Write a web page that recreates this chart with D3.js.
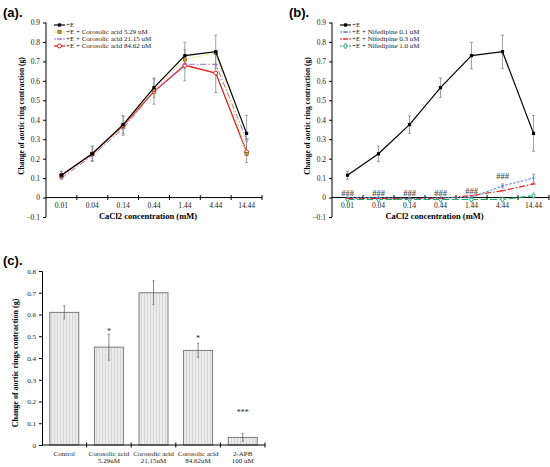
<!DOCTYPE html>
<html>
<head>
<meta charset="utf-8">
<script src="https://cdn.jsdelivr.net/npm/d3@7"></script>
<style>
  html, body { margin: 0; padding: 0; background: #fff; }
  svg { display: block; }
  text { font-family: "Liberation Serif", "Times New Roman", serif; }
</style>
</head>
<body>
<svg id="fig" width="550" height="467"></svg>
<script>
// ---- data ----
const concentrations = ["0.01", "0.04", "0.14", "0.44", "1.44", "4.44", "14.44"];

const valE = [0.115, 0.225, 0.375, 0.565, 0.73, 0.75, 0.33];
const errE = [0.02, 0.04, 0.045, 0.05, 0.068, 0.085, 0.092];

const valCA529 = [0.11, 0.225, 0.37, 0.555, 0.71, 0.745, 0.225];
const valCA2115 = [0.10, 0.215, 0.355, 0.545, 0.685, 0.685, 0.30];
const valCA8462 = [0.115, 0.225, 0.37, 0.545, 0.68, 0.64, 0.235];
const errCA8462 = [0.02, 0.035, 0.05, 0.065, 0.08, 0.10, 0.055];

const valNif01 = [0, 0, -0.005, 0, 0, 0.06, 0.10];
const errNif01 = [0, 0, 0, 0, 0, 0.01, 0.02];
const valNif03 = [-0.005, -0.005, -0.005, -0.005, 0.01, 0.035, 0.07];
const valNif10 = [-0.01, -0.01, -0.01, -0.01, -0.01, -0.01, 0.01];
const hashY = [0.025, 0.025, 0.025, 0.025, 0.035, 0.11, null];

const yTicksLine = [-0.1, 0, 0.1, 0.2, 0.3, 0.4, 0.5, 0.6, 0.7, 0.8, 0.9];

const barLabels = [["Control"], ["Corosolic acid", "5.29uM"], ["Corosolic acid", "21.15uM"], ["Corosolic acid", "84.62uM"], ["2-APB", "100 uM"]];
const barValues = [0.61, 0.45, 0.70, 0.435, 0.035];
const barErrors = [0.03, 0.06, 0.055, 0.032, 0.018];
const barMarks = ["", "*", "", "*", "***"];
const barMarkY = [null, 0.525, null, 0.49, 0.15];
const yTicksBar = [0, 0.1, 0.2, 0.3, 0.4, 0.5, 0.6, 0.7, 0.8];

const svg = d3.select("#fig");
const fmt = d => d === 0 ? "0" : d3.format(".1f")(d);

// hatch pattern for bars
const pat = svg.append("defs").append("pattern")
  .attr("id", "hatch").attr("patternUnits", "userSpaceOnUse")
  .attr("width", 3).attr("height", 3);
pat.append("rect").attr("width", 3).attr("height", 3).attr("fill", "#ececec");
pat.append("line").attr("x1", 0.5).attr("x2", 0.5).attr("y1", 0).attr("y2", 3)
  .attr("stroke", "#cfcfcf").attr("stroke-width", 0.8);

function panelTitle(label, x, y) {
  svg.append("text").attr("x", x).attr("y", y)
    .style("font-family", "'Liberation Sans', Arial, sans-serif")
    .style("font-weight", "bold").style("font-size", "13px")
    .text(label);
}

function lineChart(opts) {
  const x = d3.scaleBand().domain(concentrations).range([opts.x0, opts.x1]);
  const y = d3.scaleLinear().domain([-0.1, 0.9]).range([217, 22.5]);
  const g = svg.append("g");

  // y axis
  const ya = g.append("g").attr("transform", `translate(${opts.x0},0)`)
    .call(d3.axisLeft(y).tickValues(yTicksLine).tickFormat(fmt).tickSize(3));
  ya.selectAll("text").style("font-size", "7.5px").attr("fill", "#222");
  ya.select(".domain").attr("d", `M0,${y(-0.1)}V${y(0.9)}`);

  // x axis at zero
  const xa = g.append("g");
  xa.append("line").attr("x1", opts.x0).attr("x2", opts.x1)
    .attr("y1", y(0)).attr("y2", y(0)).attr("stroke", "#000");
  const bounds = concentrations.map(c => x(c)).concat([opts.x1]);
  xa.selectAll(".tk").data(bounds.slice(1)).join("line")
    .attr("x1", d => d).attr("x2", d => d)
    .attr("y1", y(0) - 2.5).attr("y2", y(0) + 2.5).attr("stroke", "#000");
  xa.selectAll(".lb").data(concentrations).join("text")
    .attr("x", d => x(d) + x.bandwidth() / 2).attr("y", 207.5)
    .attr("text-anchor", "middle").style("font-size", "7.5px").attr("fill", "#222")
    .text(d => d);

  // axis titles
  g.append("text").attr("transform", `translate(${opts.yLabelX},116) rotate(-90)`)
    .attr("text-anchor", "middle").style("font-size", "7.5px").style("font-weight", "bold")
    .text("Change of aortic ring contraction (g)");
  g.append("text").attr("x", (opts.x0 + opts.x1) / 2 - 6).attr("y", 218.5)
    .attr("text-anchor", "middle").style("font-size", "8.5px").style("font-weight", "bold")
    .text("CaCl2 concentration (mM)");

  const cx = i => x(concentrations[i]) + x.bandwidth() / 2;

  // error bars
  opts.series.forEach(s => {
    if (!s.err) return;
    const eb = g.append("g").attr("stroke", "#8a8a8a").attr("stroke-width", 0.8);
    s.values.forEach((v, i) => {
      const e = s.err[i];
      if (!e) return;
      eb.append("line").attr("x1", cx(i)).attr("x2", cx(i)).attr("y1", y(v - e)).attr("y2", y(v + e));
      eb.append("line").attr("x1", cx(i) - 1.5).attr("x2", cx(i) + 1.5).attr("y1", y(v - e)).attr("y2", y(v - e));
      eb.append("line").attr("x1", cx(i) - 1.5).attr("x2", cx(i) + 1.5).attr("y1", y(v + e)).attr("y2", y(v + e));
    });
  });

  const line = d3.line().x((d, i) => cx(i)).y(d => y(d));
  opts.series.slice().reverse().forEach(s => {
    g.append("path").datum(s.values).attr("d", line).attr("fill", "none")
      .attr("stroke", s.color).attr("stroke-width", s.width)
      .attr("stroke-dasharray", s.dash || null);
    drawMarkers(g, s, s.values.map((v, i) => [cx(i), y(v)]));
  });

  // legend
  opts.series.forEach((s, i) => {
    const ly = 25 + i * 7;
    g.append("line").attr("x1", opts.x0 + 8).attr("x2", opts.x0 + 19)
      .attr("y1", ly).attr("y2", ly).attr("stroke", s.color)
      .attr("stroke-width", s.width).attr("stroke-dasharray", s.dash ? "2,1" : null);
    drawMarkers(g, s, [[opts.x0 + 13.5, ly]]);
    g.append("text").attr("x", opts.x0 + 20).attr("y", ly + 2.3)
      .style("font-size", "7px").attr("fill", "#222").text(s.name);
  });

  return { g, x, y, cx };
}

function drawMarkers(g, s, pts) {
  pts.forEach(([px, py]) => {
    if (s.marker === "square") {
      g.append("rect").attr("x", px - 1.6).attr("y", py - 1.6).attr("width", 3.2).attr("height", 3.2)
        .attr("fill", s.mfill).attr("stroke", s.mstroke || "none").attr("stroke-width", 0.5);
    } else if (s.marker === "circle") {
      g.append("circle").attr("cx", px).attr("cy", py).attr("r", 2)
        .attr("fill", "#fff").attr("stroke", s.color).attr("stroke-width", 1);
    } else if (s.marker === "dash") {
      g.append("line").attr("x1", px - 2).attr("x2", px + 2).attr("y1", py).attr("y2", py)
        .attr("stroke", s.color).attr("stroke-width", 1.2);
    } else if (s.marker === "diamond") {
      g.append("path").attr("d", d3.symbol(d3.symbolDiamond, 10)())
        .attr("transform", `translate(${px},${py})`)
        .attr("fill", "#fff").attr("stroke", s.color).attr("stroke-width", 0.9);
    } else if (s.marker === "dot") {
      g.append("circle").attr("cx", px).attr("cy", py).attr("r", 1.1).attr("fill", s.color);
    }
  });
}

// ---- panel (a) ----
panelTitle("(a).", 3, 17);
lineChart({
  x0: 46, x1: 262, yLabelX: 24,
  series: [
    { name: "+E", values: valE, err: errE, color: "#000", width: 1.2, marker: "square", mfill: "#000" },
    { name: "+E + Corosolic acid 5.29 uM", values: valCA529, color: "#f2d64b", width: 1, dash: "1.2,1.2", marker: "square", mfill: "#e8a000", mstroke: "#333" },
    { name: "+E + Corosolic acid 21.15 uM", values: valCA2115, color: "#9b6fc8", width: 1, dash: "6,2,1.5,2", marker: "dash" },
    { name: "+E + Corosolic acid 84.62 uM", values: valCA8462, err: errCA8462, color: "#e0211e", width: 1.3, marker: "circle" }
  ]
});

// ---- panel (b) ----
panelTitle("(b).", 289, 17);
const pb = lineChart({
  x0: 332, x1: 549, yLabelX: 310,
  series: [
    { name: "+E", values: valE, err: errE, color: "#000", width: 1.2, marker: "square", mfill: "#000" },
    { name: "+E + Nifedipine 0.1 uM", values: valNif01, err: errNif01, color: "#3f7fd4", width: 1, dash: "2.5,1.5", marker: "dot" },
    { name: "+E + Nifedipine 0.3 uM", values: valNif03, color: "#e0211e", width: 1.2, dash: "6,2,1.5,2", marker: "dash" },
    { name: "+E + Nifedipine 1.0 uM", values: valNif10, color: "#16b06a", width: 1.2, dash: "7,2.5", marker: "diamond" }
  ]
});
pb.g.selectAll(".hash").data(hashY.map((v, i) => [v, i]).filter(d => d[0] !== null)).join("text")
  .attr("x", d => pb.cx(d[1])).attr("y", d => pb.y(d[0]) + 3)
  .attr("text-anchor", "middle").style("font-size", "8.5px").style("font-weight", "bold")
  .attr("fill", "#555").text("###");

// ---- panel (c) ----
panelTitle("(c).", 3, 265);
{
  const x = d3.scaleBand().domain(d3.range(barValues.length)).range([42, 265]).paddingInner(0.35).paddingOuter(0.175);
  const y = d3.scaleLinear().domain([0, 0.8]).range([445, 271]);
  const g = svg.append("g");

  g.selectAll(".bar").data(barValues).join("rect")
    .attr("x", (d, i) => x(i)).attr("width", x.bandwidth())
    .attr("y", d => y(d)).attr("height", d => y(0) - y(d))
    .attr("fill", "url(#hatch)").attr("stroke", "#6e6e6e").attr("stroke-width", 0.9);

  const eb = g.append("g").attr("stroke", "#555").attr("stroke-width", 0.7);
  barValues.forEach((v, i) => {
    const cx = x(i) + x.bandwidth() / 2, e = barErrors[i];
    eb.append("line").attr("x1", cx).attr("x2", cx).attr("y1", y(v - e)).attr("y2", y(v + e));
    eb.append("line").attr("x1", cx - 1).attr("x2", cx + 1).attr("y1", y(v - e)).attr("y2", y(v - e));
    eb.append("line").attr("x1", cx - 1).attr("x2", cx + 1).attr("y1", y(v + e)).attr("y2", y(v + e));
  });

  g.selectAll(".mk").data(barMarks).join("text")
    .attr("x", (d, i) => x(i) + x.bandwidth() / 2).attr("y", (d, i) => barMarkY[i] ? y(barMarkY[i]) + 3 : 0)
    .attr("text-anchor", "middle").style("font-size", "8px").attr("fill", "#222")
    .text(d => d);

  const ya = g.append("g").attr("transform", "translate(42,0)")
    .call(d3.axisLeft(y).tickValues(yTicksBar).tickFormat(fmt).tickSize(3));
  ya.selectAll("text").style("font-size", "7px").attr("fill", "#222");

  const xa = g.append("g");
  xa.append("line").attr("x1", 42).attr("x2", 265).attr("y1", y(0)).attr("y2", y(0)).attr("stroke", "#000");
  xa.selectAll(".tk").data(d3.range(1, barValues.length + 1)).join("line")
    .attr("x1", d => 42 + d * (223 / barValues.length)).attr("x2", d => 42 + d * (223 / barValues.length))
    .attr("y1", y(0) - 2.5).attr("y2", y(0) + 2.5).attr("stroke", "#000");
  barLabels.forEach((lines, i) => {
    const t = xa.append("text").attr("text-anchor", "middle").style("font-size", "7px").attr("fill", "#222");
    lines.forEach((l, k) => {
      t.append("tspan").attr("x", x(i) + x.bandwidth() / 2).attr("y", 455.5 + k * 7.3).text(l);
    });
  });

  g.append("text").attr("transform", "translate(18,363) rotate(-90)")
    .attr("text-anchor", "middle").style("font-size", "8px").style("font-weight", "bold")
    .text("Change of aortic rings contraction (g)");
}
</script>
</body>
</html>
